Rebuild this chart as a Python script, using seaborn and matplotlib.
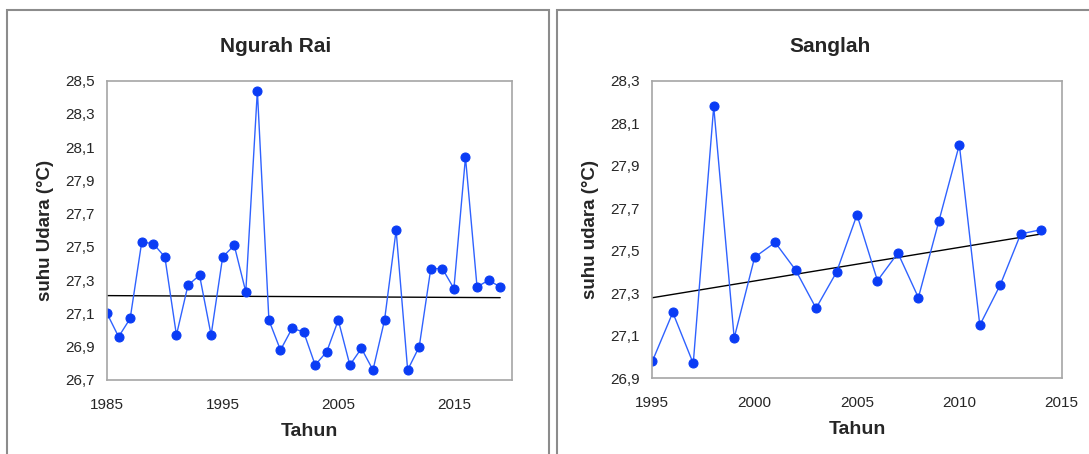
import numpy as np
import pandas as pd
import matplotlib
matplotlib.use('Agg')
import matplotlib.pyplot as plt
import matplotlib.ticker as mticker
from matplotlib.patches import Rectangle
import seaborn as sns

# --- data ---
years_ngurah = list(range(1985, 2020))
temp_ngurah = [27.10, 26.96, 27.07, 27.53, 27.52, 27.44, 26.97, 27.27, 27.33, 26.97,
               27.44, 27.51, 27.23, 28.44, 27.06, 26.88, 27.01, 26.99, 26.79, 26.87,
               27.06, 26.79, 26.89, 26.76, 27.06, 27.60, 26.76, 26.90, 27.37, 27.37,
               27.25, 28.04, 27.26, 27.30, 27.26]

years_sanglah = list(range(1995, 2015))
temp_sanglah = [26.98, 27.21, 26.97, 28.18, 27.09, 27.47, 27.54, 27.41, 27.23, 27.40,
                27.67, 27.36, 27.49, 27.28, 27.64, 28.00, 27.15, 27.34, 27.58, 27.60]

titles = ['Ngurah Rai', 'Sanglah']
ylabels = ['suhu Udara (°C)', 'suhu udara (°C)']
xlabel = 'Tahun'

sns.set_style('white')
plt.rcParams['font.family'] = ['Liberation Sans', 'DejaVu Sans']

LINE = '#2f62ff'
MARK = '#0a3cf5'
SPINE = '#a6a6a6'

fig = plt.figure(figsize=(10.89, 4.54), dpi=100)

# panel frames
fig.patches.append(Rectangle((7 / 1089, -0.1), 542 / 1089, 1.1 - 10 / 454,
                             transform=fig.transFigure, fill=False,
                             edgecolor='#8c8c8c', lw=1.5))
fig.patches.append(Rectangle((557 / 1089, -0.1), 0.6, 1.1 - 10 / 454,
                             transform=fig.transFigure, fill=False,
                             edgecolor='#8c8c8c', lw=1.5))

ax1 = fig.add_axes([0.0983, 0.163, 0.3716, 0.6592])
ax2 = fig.add_axes([0.599, 0.1667, 0.3759, 0.6549])

panels = [
    (ax1, years_ngurah, temp_ngurah, (1985, 2020), [1985, 1995, 2005, 2015], (26.7, 28.5)),
    (ax2, years_sanglah, temp_sanglah, (1995, 2015), [1995, 2000, 2005, 2010, 2015], (26.9, 28.3)),
]
title_x = [276 / 1089, 830 / 1089]

comma = mticker.FuncFormatter(lambda v, p: f'{v:.1f}'.replace('.', ','))

for i, (ax, yrs, vals, xlim, xt, ylim) in enumerate(panels):
    df = pd.DataFrame({'year': yrs, 'temp': vals})
    sns.regplot(data=df, x='year', y='temp', scatter=False, ci=None, truncate=True,
                color='black', line_kws={'lw': 1.0}, ax=ax)
    sns.lineplot(data=df, x='year', y='temp', color=LINE, lw=1.0, marker='o',
                 markersize=6.5, markerfacecolor=MARK, markeredgecolor=MARK, ax=ax)
    ax.set_xlim(*xlim)
    ax.set_ylim(*ylim)
    ax.set_xticks(xt)
    ax.set_yticks(np.arange(ylim[0], ylim[1] + 0.01, 0.2))
    ax.yaxis.set_major_formatter(comma)
    for s in ax.spines.values():
        s.set_visible(True)
        s.set_color(SPINE)
        s.set_linewidth(1.2)
    ax.tick_params(axis='both', direction='out', length=5, width=1, color=SPINE,
                   labelsize=11, labelcolor='#262626', pad=4)
    ax.tick_params(axis='x', pad=8)
    fig.text(title_x[i], 1 - 46 / 454, titles[i], fontsize=15, fontweight='bold',
             ha='center', va='center')
    ax.set_xlabel(xlabel, fontsize=14, fontweight='bold', labelpad=8)
    ax.set_ylabel(ylabels[i], fontsize=13.5, fontweight='bold', labelpad=8)

fig.savefig('out.png', dpi=100)
